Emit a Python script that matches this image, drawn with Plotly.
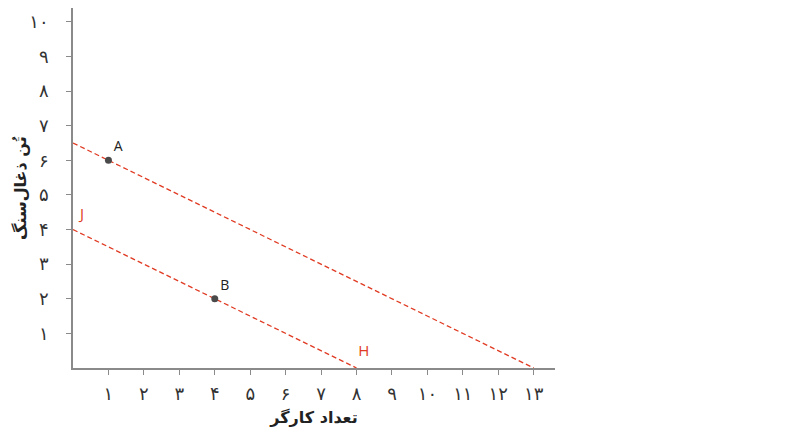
import plotly.graph_objects as go

# Data
line1_x = [0, 13]
line1_y = [6.5, 0]
line2_x = [0, 8]
line2_y = [4, 0]
point_names = ["A", "B"]
point_x = [1, 4]
point_y = [6, 2]
line_labels = ["J", "H"]
line_label_x = [0.2, 8.05]
line_label_y = [4.4, 0.45]
x_ticks = list(range(1, 14))
y_ticks = list(range(1, 11))
fa_digits = "۰۱۲۳۴۵۶۷۸۹"

def fa(n):
    return "".join(fa_digits[int(c)] for c in str(n))

x_tick_text = [fa(v) for v in x_ticks]
y_tick_text = [fa(v) for v in y_ticks]

red = "#e03a22"
grey = "#8a8a8a"

fig = go.Figure()
fig.add_trace(go.Scatter(x=line1_x, y=line1_y, mode="lines",
                         line=dict(color=red, width=1.3, dash="5px,3px"), hoverinfo="skip"))
fig.add_trace(go.Scatter(x=line2_x, y=line2_y, mode="lines",
                         line=dict(color=red, width=1.3, dash="5px,3px"), hoverinfo="skip"))
fig.add_trace(go.Scatter(x=point_x, y=point_y, mode="markers+text",
                         marker=dict(color="#4a4a4a", size=7),
                         text=point_names, textposition="top right",
                         textfont=dict(family="Open Sans, sans-serif", size=14, color="#222")))
fig.add_trace(go.Scatter(x=line_label_x, y=line_label_y, mode="text",
                         text=line_labels, textposition="middle right",
                         textfont=dict(family="Open Sans, sans-serif", size=15, color=red)))

fig.update_layout(
    width=802, height=426,
    margin=dict(l=65, r=255, t=0, b=66, autoexpand=False),
    plot_bgcolor="white", paper_bgcolor="white",
    showlegend=False,
    xaxis=dict(range=[0, 13.6], tickvals=x_ticks, ticktext=x_tick_text,
               showgrid=False, zeroline=False, showline=True, linecolor=grey, linewidth=1.5,
               ticks="outside", ticklen=5, tickcolor=grey, ticklabelstandoff=4,
               tickfont=dict(family="DejaVu Sans", size=18, color="#333"),
               title=dict(text="<b>تعداد کارگر</b>", font=dict(family="DejaVu Sans", size=16, color="#222"), standoff=8)),
    yaxis=dict(range=[0, 10.4], tickvals=y_ticks, ticktext=y_tick_text,
               showgrid=False, zeroline=False, showline=True, linecolor=grey, linewidth=1.5,
               ticks="outside", ticklen=5, tickcolor=grey, ticklabelstandoff=14,
               tickfont=dict(family="DejaVu Sans", size=18, color="#333")),
    annotations=[dict(text="<b>تُن ذغال‌سنگ</b>", xref="paper", yref="paper", x=0, y=0.5,
                      xanchor="center", yanchor="middle", xshift=-53, textangle=-90, showarrow=False,
                      font=dict(family="DejaVu Sans", size=16, color="#222"))],
)

fig.write_html("out.html")
